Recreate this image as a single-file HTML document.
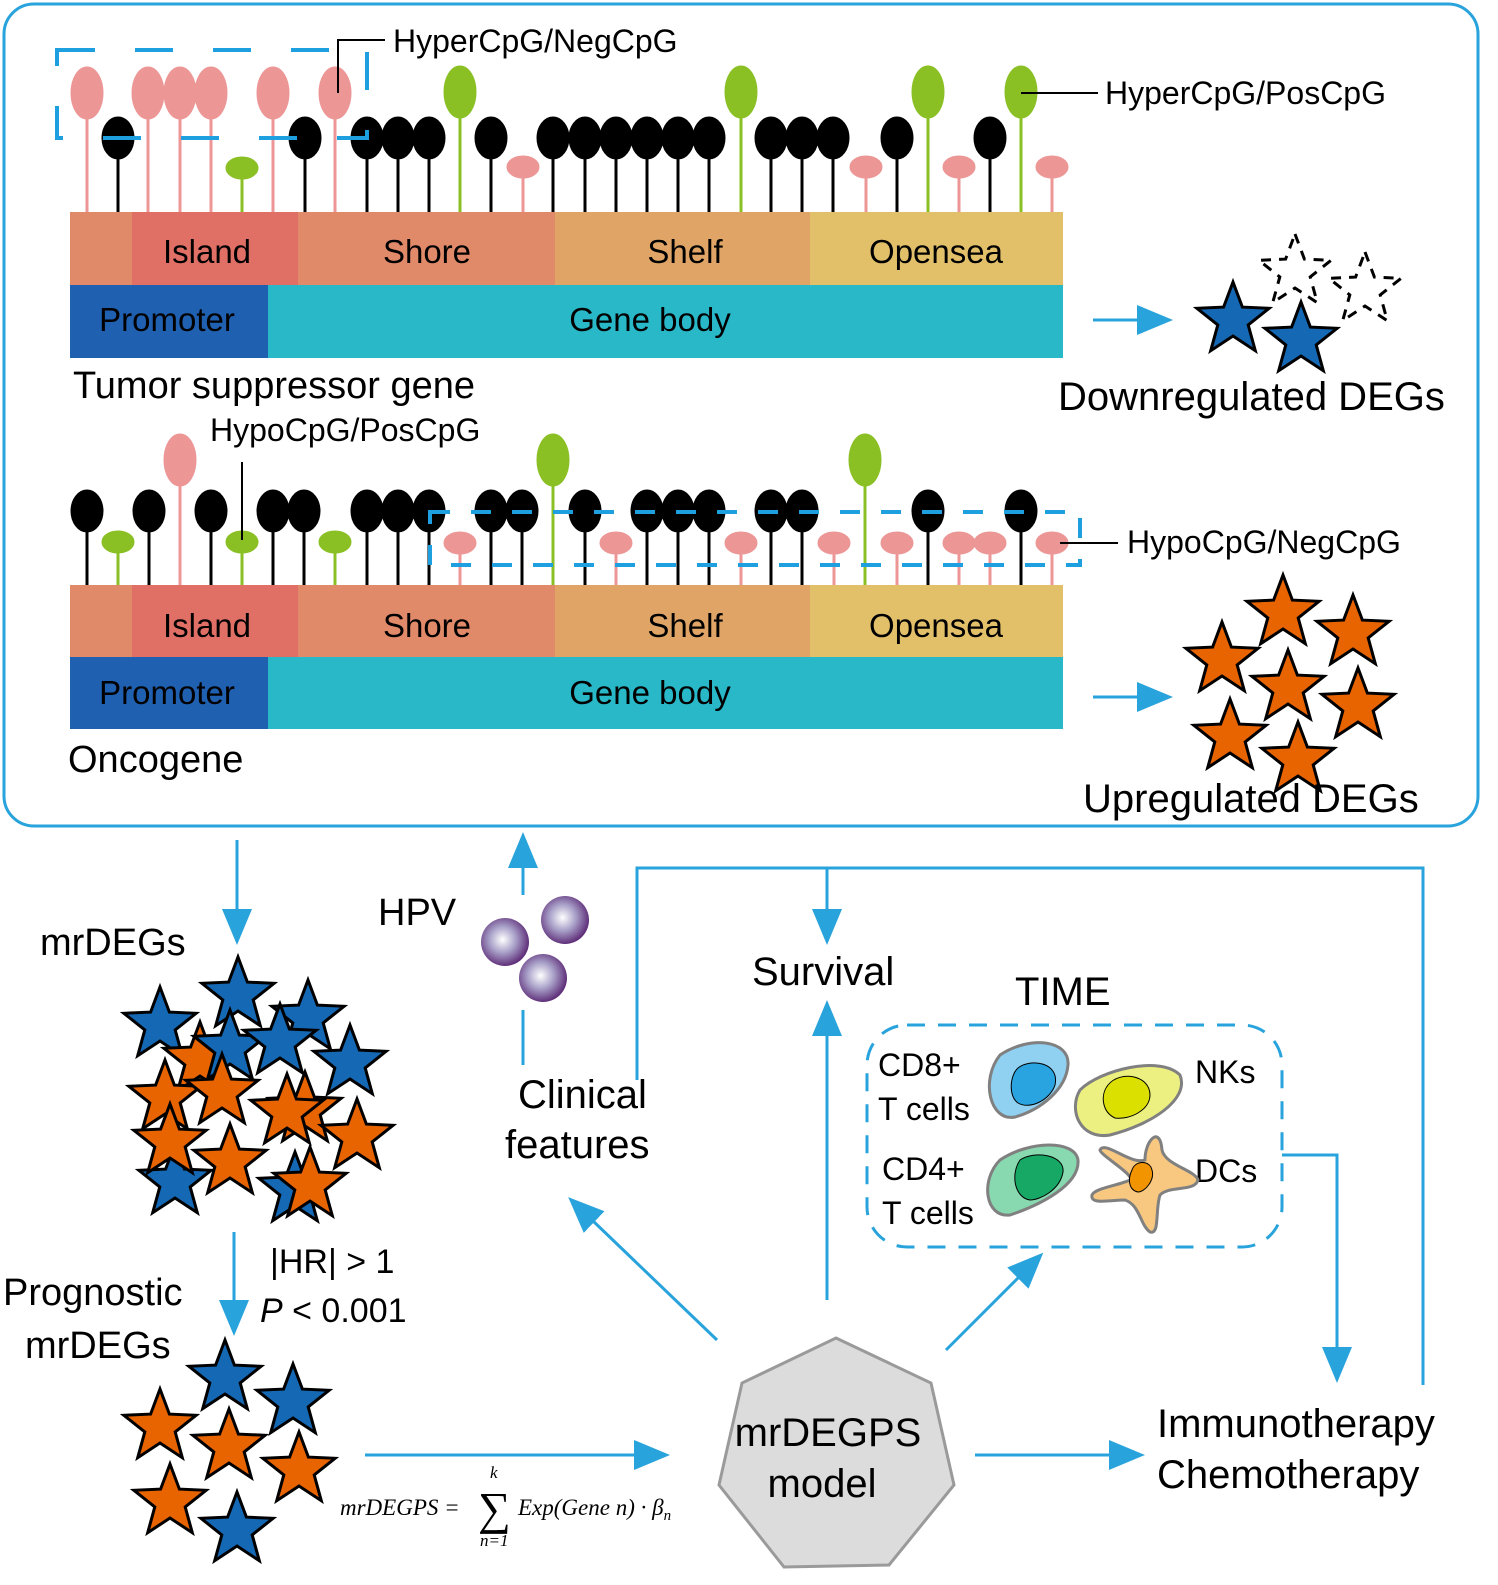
<!DOCTYPE html>
<html><head><meta charset="utf-8"><style>html,body{margin:0;padding:0;background:#fff}svg{display:block}text{font-family:"Liberation Sans",sans-serif;fill:#000}</style></head>
<body>
<svg width="1498" height="1585" viewBox="0 0 1498 1585" xmlns="http://www.w3.org/2000/svg">
<defs>
<polygon id="st" points="0,-38 9.4,-12.9 36.1,-11.7 15.2,4.9 22.3,30.7 0,16 -22.3,30.7 -15.2,4.9 -36.1,-11.7 -9.4,-12.9"/>
<radialGradient id="hp" cx="0.45" cy="0.45" r="0.55"><stop offset="0" stop-color="#fff"/><stop offset="0.5" stop-color="#a8a0c8"/><stop offset="1" stop-color="#60307a"/></radialGradient>
<marker id="ah" markerWidth="12" markerHeight="10" refX="1" refY="5" orient="auto" markerUnits="strokeWidth"><path d="M0,0 L12,5 L0,10 z" fill="#29a3dc"/></marker>
</defs>
<rect x="4" y="4" width="1474" height="822" rx="30" fill="none" stroke="#29a3dc" stroke-width="3"/>

<rect x="70" y="212" width="62" height="73" fill="#e08a6a"/>
<rect x="132" y="212" width="166" height="73" fill="#e07066"/>
<rect x="298" y="212" width="257" height="73" fill="#e08a6a"/>
<rect x="555" y="212" width="255" height="73" fill="#e0a566"/>
<rect x="810" y="212" width="253" height="73" fill="#e2c06a"/>
<rect x="70" y="285" width="198" height="73" fill="#2060b0"/>
<rect x="268" y="285" width="795" height="73" fill="#29b8c8"/>
<g font-size="33" text-anchor="middle"><text x="207" y="263">Island</text><text x="427" y="263">Shore</text><text x="685" y="263">Shelf</text><text x="936" y="263">Opensea</text><text x="167" y="331">Promoter</text><text x="650" y="331">Gene body</text></g>

<rect x="70" y="585" width="62" height="72" fill="#e08a6a"/>
<rect x="132" y="585" width="166" height="72" fill="#e07066"/>
<rect x="298" y="585" width="257" height="72" fill="#e08a6a"/>
<rect x="555" y="585" width="255" height="72" fill="#e0a566"/>
<rect x="810" y="585" width="253" height="72" fill="#e2c06a"/>
<rect x="70" y="657" width="198" height="72" fill="#2060b0"/>
<rect x="268" y="657" width="795" height="72" fill="#29b8c8"/>
<g font-size="33" text-anchor="middle"><text x="207" y="637">Island</text><text x="427" y="637">Shore</text><text x="685" y="637">Shelf</text><text x="936" y="637">Opensea</text><text x="167" y="704">Promoter</text><text x="650" y="704">Gene body</text></g>

<g stroke-width="3">
<g stroke="#ec9696" fill="#ec9696">
<line x1="87" y1="212" x2="87" y2="100"/><ellipse cx="87" cy="93" rx="15" ry="25"/>
<line x1="148" y1="212" x2="148" y2="100"/><ellipse cx="148" cy="93" rx="15" ry="25"/>
<line x1="180" y1="212" x2="180" y2="100"/><ellipse cx="180" cy="93" rx="15" ry="25"/>
<line x1="211" y1="212" x2="211" y2="100"/><ellipse cx="211" cy="93" rx="15" ry="25"/>
<line x1="273" y1="212" x2="273" y2="100"/><ellipse cx="273" cy="93" rx="15" ry="25"/>
<line x1="335" y1="212" x2="335" y2="100"/><ellipse cx="335" cy="93" rx="15" ry="25"/>
<line x1="523" y1="212" x2="523" y2="170"/><ellipse cx="523" cy="167" rx="15" ry="10"/>
<line x1="866" y1="212" x2="866" y2="170"/><ellipse cx="866" cy="167" rx="15" ry="10"/>
<line x1="959" y1="212" x2="959" y2="170"/><ellipse cx="959" cy="167" rx="15" ry="10"/>
<line x1="1052" y1="212" x2="1052" y2="170"/><ellipse cx="1052" cy="167" rx="15" ry="10"/>
</g>
<g stroke="#8ac024" fill="#8ac024">
<line x1="460" y1="212" x2="460" y2="100"/><ellipse cx="460" cy="92" rx="15" ry="25"/>
<line x1="741" y1="212" x2="741" y2="100"/><ellipse cx="741" cy="92" rx="15" ry="25"/>
<line x1="928" y1="212" x2="928" y2="100"/><ellipse cx="928" cy="92" rx="15" ry="25"/>
<line x1="1021" y1="212" x2="1021" y2="100"/><ellipse cx="1021" cy="92" rx="15" ry="25"/>
<line x1="242" y1="212" x2="242" y2="170"/><ellipse cx="242" cy="168" rx="15" ry="10"/>
</g>
<g stroke="#000" fill="#000">
<line x1="118" y1="212" x2="118" y2="140"/><ellipse cx="118" cy="138" rx="15" ry="20"/>
<line x1="305" y1="212" x2="305" y2="140"/><ellipse cx="305" cy="138" rx="15" ry="20"/>
<line x1="367" y1="212" x2="367" y2="140"/><ellipse cx="367" cy="138" rx="15" ry="20"/>
<line x1="398" y1="212" x2="398" y2="140"/><ellipse cx="398" cy="138" rx="15" ry="20"/>
<line x1="429" y1="212" x2="429" y2="140"/><ellipse cx="429" cy="138" rx="15" ry="20"/>
<line x1="491" y1="212" x2="491" y2="140"/><ellipse cx="491" cy="138" rx="15" ry="20"/>
<line x1="553" y1="212" x2="553" y2="140"/><ellipse cx="553" cy="138" rx="15" ry="20"/>
<line x1="585" y1="212" x2="585" y2="140"/><ellipse cx="585" cy="138" rx="15" ry="20"/>
<line x1="616" y1="212" x2="616" y2="140"/><ellipse cx="616" cy="138" rx="15" ry="20"/>
<line x1="647" y1="212" x2="647" y2="140"/><ellipse cx="647" cy="138" rx="15" ry="20"/>
<line x1="678" y1="212" x2="678" y2="140"/><ellipse cx="678" cy="138" rx="15" ry="20"/>
<line x1="709" y1="212" x2="709" y2="140"/><ellipse cx="709" cy="138" rx="15" ry="20"/>
<line x1="771" y1="212" x2="771" y2="140"/><ellipse cx="771" cy="138" rx="15" ry="20"/>
<line x1="802" y1="212" x2="802" y2="140"/><ellipse cx="802" cy="138" rx="15" ry="20"/>
<line x1="833" y1="212" x2="833" y2="140"/><ellipse cx="833" cy="138" rx="15" ry="20"/>
<line x1="897" y1="212" x2="897" y2="140"/><ellipse cx="897" cy="138" rx="15" ry="20"/>
<line x1="990" y1="212" x2="990" y2="140"/><ellipse cx="990" cy="138" rx="15" ry="20"/>
</g>
</g>
<path d="M57,50 H367 V138 H57 Z" fill="none" stroke="#1ea0e0" stroke-width="4" stroke-dasharray="38,40"/>
<polyline points="338,93 338,40 385,40" fill="none" stroke="#000" stroke-width="2"/>
<text x="393" y="52" font-size="32">HyperCpG/NegCpG</text>
<line x1="1021" y1="93" x2="1098" y2="93" stroke="#000" stroke-width="2"/>
<text x="1105" y="104" font-size="32">HyperCpG/PosCpG</text>
<text x="73" y="398" font-size="38">Tumor suppressor gene</text>

<g stroke-width="3">
<g stroke="#ec9696" fill="#ec9696">
<line x1="180" y1="585" x2="180" y2="468"/><ellipse cx="180" cy="460" rx="15" ry="25"/>
<line x1="460" y1="585" x2="460" y2="546"/><ellipse cx="460" cy="543" rx="15" ry="10"/>
<line x1="616" y1="585" x2="616" y2="546"/><ellipse cx="616" cy="543" rx="15" ry="10"/>
<line x1="741" y1="585" x2="741" y2="546"/><ellipse cx="741" cy="543" rx="15" ry="10"/>
<line x1="834" y1="585" x2="834" y2="546"/><ellipse cx="834" cy="543" rx="15" ry="10"/>
<line x1="897" y1="585" x2="897" y2="546"/><ellipse cx="897" cy="543" rx="15" ry="10"/>
<line x1="959" y1="585" x2="959" y2="546"/><ellipse cx="959" cy="543" rx="15" ry="10"/>
<line x1="990" y1="585" x2="990" y2="546"/><ellipse cx="990" cy="543" rx="15" ry="10"/>
<line x1="1052" y1="585" x2="1052" y2="546"/><ellipse cx="1052" cy="543" rx="15" ry="10"/>
</g>
<g stroke="#8ac024" fill="#8ac024">
<line x1="553" y1="585" x2="553" y2="468"/><ellipse cx="553" cy="460" rx="15" ry="25"/>
<line x1="865" y1="585" x2="865" y2="468"/><ellipse cx="865" cy="460" rx="15" ry="25"/>
<line x1="118" y1="585" x2="118" y2="545"/><ellipse cx="118" cy="542" rx="15" ry="10"/>
<line x1="242" y1="585" x2="242" y2="545"/><ellipse cx="242" cy="542" rx="15" ry="10"/>
<line x1="335" y1="585" x2="335" y2="545"/><ellipse cx="335" cy="542" rx="15" ry="10"/>
</g>
<g stroke="#000" fill="#000">
<line x1="87" y1="585" x2="87" y2="515"/><ellipse cx="87" cy="511" rx="15" ry="20"/>
<line x1="149" y1="585" x2="149" y2="515"/><ellipse cx="149" cy="511" rx="15" ry="20"/>
<line x1="211" y1="585" x2="211" y2="515"/><ellipse cx="211" cy="511" rx="15" ry="20"/>
<line x1="273" y1="585" x2="273" y2="515"/><ellipse cx="273" cy="511" rx="15" ry="20"/>
<line x1="304" y1="585" x2="304" y2="515"/><ellipse cx="304" cy="511" rx="15" ry="20"/>
<line x1="367" y1="585" x2="367" y2="515"/><ellipse cx="367" cy="511" rx="15" ry="20"/>
<line x1="398" y1="585" x2="398" y2="515"/><ellipse cx="398" cy="511" rx="15" ry="20"/>
<line x1="429" y1="585" x2="429" y2="515"/><ellipse cx="429" cy="511" rx="15" ry="20"/>
<line x1="491" y1="585" x2="491" y2="515"/><ellipse cx="491" cy="511" rx="15" ry="20"/>
<line x1="522" y1="585" x2="522" y2="515"/><ellipse cx="522" cy="511" rx="15" ry="20"/>
<line x1="585" y1="585" x2="585" y2="515"/><ellipse cx="585" cy="511" rx="15" ry="20"/>
<line x1="647" y1="585" x2="647" y2="515"/><ellipse cx="647" cy="511" rx="15" ry="20"/>
<line x1="678" y1="585" x2="678" y2="515"/><ellipse cx="678" cy="511" rx="15" ry="20"/>
<line x1="709" y1="585" x2="709" y2="515"/><ellipse cx="709" cy="511" rx="15" ry="20"/>
<line x1="771" y1="585" x2="771" y2="515"/><ellipse cx="771" cy="511" rx="15" ry="20"/>
<line x1="802" y1="585" x2="802" y2="515"/><ellipse cx="802" cy="511" rx="15" ry="20"/>
<line x1="928" y1="585" x2="928" y2="515"/><ellipse cx="928" cy="511" rx="15" ry="20"/>
<line x1="1021" y1="585" x2="1021" y2="515"/><ellipse cx="1021" cy="511" rx="15" ry="20"/>
</g>
</g>
<path d="M430,512 H1080 V565 H430 Z" fill="none" stroke="#1ea0e0" stroke-width="4" stroke-dasharray="20,21"/>
<line x1="242" y1="462" x2="242" y2="540" stroke="#000" stroke-width="2"/>
<text x="210" y="441" font-size="32">HypoCpG/PosCpG</text>
<line x1="1060" y1="543" x2="1118" y2="543" stroke="#000" stroke-width="2"/>
<text x="1127" y="553" font-size="32">HypoCpG/NegCpG</text>
<text x="68" y="772" font-size="38">Oncogene</text>

<line x1="1093" y1="320" x2="1140" y2="320" stroke="#29a3dc" stroke-width="3" marker-end="url(#ah)"/>
<line x1="1093" y1="697" x2="1140" y2="697" stroke="#29a3dc" stroke-width="3" marker-end="url(#ah)"/>
<g fill="none" stroke="#000" stroke-width="3" stroke-dasharray="10,8">
<use href="#st" x="1295" y="272"/><use href="#st" x="1365" y="290"/>
</g>
<g fill="#1568b4" stroke="#000" stroke-width="3"><use href="#st" x="1233" y="320"/><use href="#st" x="1301" y="340"/></g>
<g fill="#e86400" stroke="#000" stroke-width="3">
<use href="#st" x="1283" y="613"/><use href="#st" x="1353" y="633"/><use href="#st" x="1222" y="660"/><use href="#st" x="1288" y="688"/><use href="#st" x="1358" y="706"/><use href="#st" x="1230" y="737"/><use href="#st" x="1298" y="760"/>
</g>
<text x="1058" y="410" font-size="40">Downregulated DEGs</text>
<text x="1083" y="812" font-size="40">Upregulated DEGs</text>

<g stroke="#29a3dc" stroke-width="3" fill="none">
<line x1="237" y1="840" x2="237" y2="912" marker-end="url(#ah)"/>
<line x1="234" y1="1232" x2="234" y2="1303" marker-end="url(#ah)"/>
<line x1="523" y1="1065" x2="523" y2="1010"/>
<line x1="523" y1="895" x2="523" y2="865" marker-end="url(#ah)"/>
<polyline points="637,1080 637,868 1423,868 1423,1385"/>
<line x1="827" y1="868" x2="827" y2="912" marker-end="url(#ah)"/>
<line x1="827" y1="1300" x2="827" y2="1033" marker-end="url(#ah)"/>
<line x1="717" y1="1340" x2="592" y2="1220" marker-end="url(#ah)"/>
<line x1="946" y1="1350" x2="1020" y2="1276" marker-end="url(#ah)"/>
<polyline points="1282,1155 1337,1155 1337,1350" marker-end="url(#ah)"/>
<line x1="365" y1="1455" x2="637" y2="1455" marker-end="url(#ah)"/>
<line x1="975" y1="1455" x2="1112" y2="1455" marker-end="url(#ah)"/>
</g>
<text x="40" y="955" font-size="38">mrDEGs</text>
<g stroke="#000" stroke-width="3">
<use href="#st" x="160" y="1025" fill="#1568b4"/><use href="#st" x="238" y="995" fill="#1568b4"/><use href="#st" x="308" y="1018" fill="#1568b4"/>
<use href="#st" x="200" y="1060" fill="#e86400"/><use href="#st" x="230" y="1048" fill="#1568b4"/><use href="#st" x="280" y="1042" fill="#1568b4"/><use href="#st" x="350" y="1063" fill="#1568b4"/>
<use href="#st" x="305" y="1110" fill="#e86400"/><use href="#st" x="165" y="1098" fill="#e86400"/><use href="#st" x="222" y="1092" fill="#e86400"/>
<use href="#st" x="175" y="1182" fill="#1568b4"/><use href="#st" x="295" y="1190" fill="#1568b4"/><use href="#st" x="310" y="1185" fill="#e86400"/>
<use href="#st" x="287" y="1112" fill="#e86400"/><use href="#st" x="170" y="1142" fill="#e86400"/><use href="#st" x="230" y="1162" fill="#e86400"/><use href="#st" x="357" y="1137" fill="#e86400"/>
</g>
<text x="270" y="1273" font-size="34">|HR| &gt; 1</text>
<text x="260" y="1322" font-size="34"><tspan font-style="italic">P</tspan> &lt; 0.001</text>
<text x="3" y="1305" font-size="38">Prognostic</text>
<text x="25" y="1358" font-size="38">mrDEGs</text>
<g stroke="#000" stroke-width="3">
<use href="#st" x="225" y="1378" fill="#1568b4"/><use href="#st" x="293" y="1402" fill="#1568b4"/>
<use href="#st" x="160" y="1427" fill="#e86400"/><use href="#st" x="229" y="1447" fill="#e86400"/><use href="#st" x="299" y="1470" fill="#e86400"/><use href="#st" x="170" y="1502" fill="#e86400"/>
<use href="#st" x="237" y="1530" fill="#1568b4"/>
</g>
<text x="340" y="1515" style="font-family:'Liberation Serif',serif;font-style:italic;font-size:23px">mrDEGPS =</text>
<text x="478" y="1524" style="font-family:'Liberation Serif',serif;font-size:46px">∑</text>
<text x="490" y="1478" style="font-family:'Liberation Serif',serif;font-style:italic;font-size:17px">k</text>
<text x="480" y="1546" style="font-family:'Liberation Serif',serif;font-style:italic;font-size:17px">n=1</text>
<text x="518" y="1515" style="font-family:'Liberation Serif',serif;font-style:italic;font-size:23px">Exp(Gene n) · β<tspan style="font-size:15px" dy="5">n</tspan></text>

<text x="378" y="925" font-size="38">HPV</text>
<circle cx="505" cy="942" r="24" fill="url(#hp)"/><circle cx="565" cy="920" r="24" fill="url(#hp)"/><circle cx="543" cy="978" r="24" fill="url(#hp)"/>
<text x="518" y="1108" font-size="40">Clinical</text>
<text x="505" y="1158" font-size="40">features</text>
<text x="752" y="985" font-size="40">Survival</text>
<text x="1015" y="1005" font-size="40">TIME</text>
<rect x="867" y="1025" width="415" height="222" rx="40" fill="none" stroke="#29a3dc" stroke-width="3" stroke-dasharray="18,13"/>
<g font-size="32"><text x="878" y="1076">CD8+</text><text x="878" y="1120">T cells</text><text x="882" y="1180">CD4+</text><text x="882" y="1224">T cells</text><text x="1195" y="1083">NKs</text><text x="1195" y="1182">DCs</text></g>
<g stroke="#808080" stroke-width="3">
<path d="M1000,1055 C1030,1035 1070,1040 1068,1065 C1066,1090 1040,1110 1015,1117 C990,1122 980,1080 1000,1055 Z" fill="#90d0f0"/>
<path d="M1018,1068 C1030,1058 1060,1062 1055,1085 C1050,1100 1030,1110 1018,1103 C1008,1096 1010,1075 1018,1068 Z" fill="#2aa4e0" stroke="#000" stroke-width="1"/>
<path d="M1080,1090 C1100,1070 1160,1055 1180,1075 C1190,1100 1150,1125 1110,1135 C1080,1140 1068,1110 1080,1090 Z" fill="#ecf080"/>
<path d="M1108,1085 C1120,1070 1150,1075 1150,1095 C1150,1110 1130,1120 1115,1118 C1102,1112 1100,1095 1108,1085 Z" fill="#dce000" stroke="#000" stroke-width="1"/>
<path d="M1000,1160 C1030,1140 1075,1140 1078,1160 C1080,1185 1040,1205 1010,1215 C985,1218 980,1180 1000,1160 Z" fill="#88d8b0"/>
<path d="M1020,1160 C1035,1150 1065,1155 1063,1172 C1060,1190 1040,1200 1030,1200 C1015,1198 1010,1175 1020,1160 Z" fill="#16a864" stroke="#000" stroke-width="1"/>
<path d="M1145,1160 C1145,1140 1160,1125 1162,1150 C1165,1165 1195,1170 1198,1180 C1195,1192 1170,1185 1160,1195 C1155,1210 1160,1235 1150,1232 C1140,1225 1140,1205 1125,1200 C1110,1200 1090,1205 1092,1195 C1095,1188 1120,1185 1130,1180 C1135,1175 1100,1155 1100,1150 C1105,1140 1130,1165 1145,1160 Z" fill="#f8c880"/>
<path d="M1132,1170 C1135,1160 1150,1160 1152,1170 C1155,1180 1145,1192 1138,1192 C1128,1190 1128,1178 1132,1170 Z" fill="#f29400" stroke="#000" stroke-width="1"/>
</g>

<polygon points="836,1338 931,1383 954,1485 889,1565 784,1567 719,1485 742,1383" fill="#dcdcdc" stroke="#9a9a9a" stroke-width="3"/>
<text x="828" y="1446" font-size="40" text-anchor="middle">mrDEGPS</text>
<text x="822" y="1497" font-size="40" text-anchor="middle">model</text>
<text x="1157" y="1437" font-size="40">Immunotherapy</text>
<text x="1157" y="1488" font-size="40">Chemotherapy</text>
</svg>
</body></html>
